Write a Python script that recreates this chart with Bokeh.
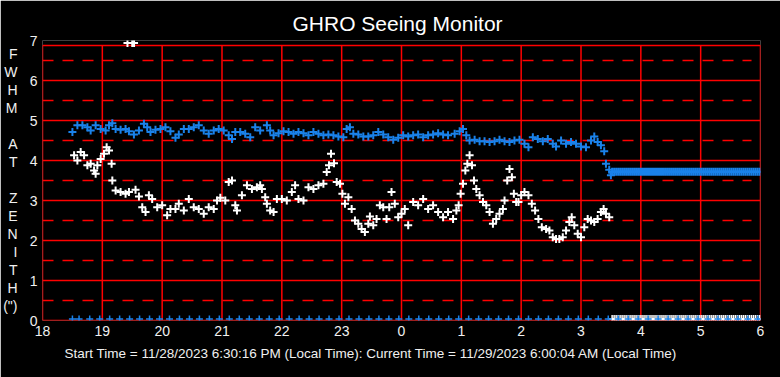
import numpy as np
from bokeh.plotting import figure
from bokeh.models import FixedTicker, LinearAxis, Title
from bokeh.embed import file_html
from bokeh.resources import INLINE

title_text = "GHRO Seeing Monitor"
footer_text = ("Start Time = 11/28/2023 6:30:16 PM (Local Time): "
               "Current Time = 11/29/2023 6:00:04 AM (Local Time)")
y_letters = ["F", "W", "H", "M", "", "A", "T", "", "Z", "E", "N", "I", "T", "H", "(\")"]
hour_ticks = list(range(18, 31))
hour_labels = ["18", "19", "20", "21", "22", "23", "0", "1", "2", "3", "4", "5", "6"]
y_ticks = [0, 1, 2, 3, 4, 5, 6, 7]
y_half = [0.5, 1.5, 2.5, 3.5, 4.5, 5.5, 6.5]
frame_top = 6.875

# white series: seeing FWHM (time in hours since midnight of start day)
fwhm_t = [18.528, 18.583, 18.638, 18.695, 18.75, 18.805, 18.862, 18.888, 18.917, 18.972,
          19.028, 19.072, 19.112, 19.155, 19.167, 19.222, 19.305, 19.388, 19.445, 19.555,
          19.612, 19.667, 19.722, 19.778, 19.833, 19.917, 20.0, 20.083, 20.138, 20.222,
          20.278, 20.362, 20.445, 20.528, 20.612, 20.695, 20.778, 20.862, 20.917, 20.972,
          21.055, 21.112, 21.167, 21.222, 21.25, 21.333, 21.417, 21.5, 21.583, 21.638,
          21.667, 21.722, 21.75, 21.805, 21.862, 21.917, 22.0, 22.083, 22.167, 22.222,
          22.278, 22.362, 22.445, 22.528, 22.612, 22.695, 22.75, 22.788, 22.822, 22.872,
          22.917, 22.972, 23.012, 23.055, 23.112, 23.167, 23.222, 23.278, 23.333, 23.388,
          23.445, 23.472, 23.528, 23.583, 23.638, 23.695, 23.75, 23.795, 23.833, 23.888,
          23.945, 24.0, 24.055, 24.112, 24.195, 24.278, 24.362, 24.445, 24.528, 24.612,
          24.695, 24.778, 24.862, 24.917, 24.955, 24.988, 25.028, 25.067, 25.1, 25.138,
          25.178, 25.212, 25.25, 25.305, 25.362, 25.417, 25.472, 25.528, 25.583, 25.638,
          25.695, 25.722, 25.767, 25.805, 25.845, 25.878, 25.917, 25.955, 26.0, 26.055,
          26.122, 26.178, 26.233, 26.288, 26.345, 26.417, 26.472, 26.528, 26.583, 26.638,
          26.695, 26.75, 26.805, 26.845, 26.888, 26.945, 27.0, 27.055, 27.112, 27.167,
          27.222, 27.278, 27.333, 27.378, 27.417, 27.472,
          19.42, 19.5, 19.53]
fwhm_v = [4.13, 4.0, 4.21, 4.13, 3.88, 3.92, 3.75, 3.67, 3.88, 4.04,
          4.17, 4.33, 4.25, 3.92, 3.5, 3.25, 3.21, 3.17, 3.21, 3.27,
          3.1, 2.83, 2.71, 3.13, 3.04, 2.83, 2.88, 2.63, 2.79, 2.79,
          2.92, 2.75, 3.04, 2.83, 2.79, 2.67, 2.83, 2.79, 3.0, 3.07,
          3.0, 3.46, 3.5, 2.88, 2.75, 3.13, 3.38, 3.29, 3.33, 3.38,
          3.29, 3.08, 2.92, 2.75, 2.71, 3.04, 3.04, 3.0, 3.21, 3.38,
          3.04, 3.0, 3.33, 3.29, 3.38, 3.42, 3.71, 3.88, 4.17, 3.93,
          3.46, 3.42, 3.17, 2.92, 3.08, 2.79, 2.5, 2.42, 2.29, 2.21,
          2.42, 2.6, 2.38, 2.54, 2.88, 2.83, 2.54, 2.83, 3.21, 2.92,
          2.58, 2.67, 2.79, 2.38, 2.96, 2.88, 3.04, 2.79, 2.88, 2.71,
          2.58, 2.71, 2.54, 2.75, 2.88, 3.17, 3.42, 3.75, 3.92, 4.13,
          3.88, 3.5, 3.29, 3.13, 2.96, 2.88, 2.71, 2.42, 2.54, 2.67,
          2.79, 3.0, 3.5, 3.79, 3.58, 3.17, 2.96, 2.96, 3.13, 3.21,
          3.13, 2.92, 2.75, 2.54, 2.33, 2.29, 2.25, 2.08, 2.04, 2.04,
          2.08, 2.25, 2.46, 2.58, 2.38, 2.17, 2.08, 2.33, 2.54, 2.5,
          2.46, 2.54, 2.71, 2.79, 2.67, 2.58,
          6.94, 6.94, 6.94]

# blue series
blue_t = [18.5, 18.583, 18.667, 18.75, 18.805, 18.888, 18.972, 19.055, 19.112, 19.167,
          19.222, 19.305, 19.388, 19.445, 19.528, 19.612, 19.695, 19.75, 19.805, 19.888,
          19.972, 20.055, 20.138, 20.222, 20.278, 20.362, 20.445, 20.528, 20.612, 20.695,
          20.778, 20.862, 20.945, 21.028, 21.112, 21.167, 21.222, 21.305, 21.388, 21.472,
          21.555, 21.638, 21.75, 21.805, 21.862, 21.945, 22.028, 22.112, 22.195, 22.278,
          22.362, 22.445, 22.528, 22.612, 22.695, 22.778, 22.862, 22.945, 23.028, 23.083,
          23.138, 23.195, 23.278, 23.362, 23.445, 23.528, 23.612, 23.695, 23.778, 23.862,
          23.945, 24.028, 24.112, 24.195, 24.278, 24.362, 24.445, 24.528, 24.612, 24.695,
          24.778, 24.888, 24.972, 25.028, 25.083, 25.138, 25.222, 25.305, 25.388, 25.472,
          25.555, 25.638, 25.722, 25.805, 25.888, 25.972, 26.055, 26.122, 26.195, 26.278,
          26.362, 26.445, 26.528, 26.583, 26.667, 26.75, 26.833, 26.917, 27.0, 27.083,
          27.167, 27.222, 27.278, 27.333, 27.388, 27.417, 27.472, 27.5]
blue_v = [4.71, 4.88, 4.88, 4.83, 4.75, 4.88, 4.79, 4.75, 4.88, 4.93,
          4.79, 4.77, 4.79, 4.73, 4.65, 4.75, 4.92, 4.83, 4.71, 4.77,
          4.79, 4.83, 4.73, 4.57, 4.65, 4.79, 4.79, 4.83, 4.88, 4.75,
          4.67, 4.75, 4.79, 4.75, 4.63, 4.54, 4.71, 4.71, 4.67, 4.58,
          4.83, 4.75, 4.88, 4.75, 4.63, 4.68, 4.73, 4.71, 4.67, 4.71,
          4.68, 4.63, 4.71, 4.67, 4.63, 4.65, 4.63, 4.6, 4.58, 4.79,
          4.83, 4.67, 4.65, 4.6, 4.6, 4.63, 4.71, 4.65, 4.58, 4.52,
          4.57, 4.63, 4.6, 4.63, 4.65, 4.58, 4.63, 4.65, 4.68, 4.65,
          4.63, 4.67, 4.73, 4.79, 4.63, 4.5, 4.52, 4.48, 4.48, 4.46,
          4.48, 4.52, 4.48, 4.46, 4.5, 4.52, 4.42, 4.33, 4.58, 4.54,
          4.48, 4.54, 4.42, 4.35, 4.5, 4.42, 4.46, 4.42, 4.35, 4.33,
          4.5, 4.6, 4.46, 4.38, 4.23, 3.92, 3.77, 3.63]

# after the current time: held values sampled every 2 minutes
future_t = list(np.arange(27.52, 30.01, 1 / 30))
future_blue_v = [3.72] * len(future_t)
future_white_v = [0.04] * len(future_t)

# blue markers along the baseline every 10 minutes
base_t = [18.5, 18.611] + list(np.arange(18.789, 30.01, 1 / 6))
base_v = [0.04] * len(base_t)

# positions of the stacked letters of the vertical caption (in y units)
letter_pos = [round(6.675 - 0.45 * i, 3) for i in range(len(y_letters))]

BLUE = "#1a82ea"
RED = "#ff0000"
FONT = "Liberation Sans"
TXT = "#f0f0f0"

p = figure(width=780, height=377, x_range=(18, 30), y_range=(0, 7),
           output_backend="svg", toolbar_location=None,
           background_fill_color="black", border_fill_color="black",
           min_border_left=40, min_border_right=20, min_border_top=40,
           min_border_bottom=57, outline_line_color=None)
p.grid.visible = False

p.title.text = title_text
p.title.align = "left"
p.title.offset = 250
p.title.text_color = "white"
p.title.text_font = FONT
p.title.text_font_size = "21px"
p.title.text_font_style = "normal"
p.title.standoff = 11

# grid
p.segment(x0=hour_ticks, y0=[0] * len(hour_ticks), x1=hour_ticks,
          y1=[frame_top] * len(hour_ticks), line_color=RED, line_width=1.5)
p.segment(x0=[18] * 7, y0=y_ticks[:7], x1=[30] * 7, y1=y_ticks[:7],
          line_color=RED, line_width=1.5)
p.segment(x0=[18], y0=[frame_top], x1=[30], y1=[frame_top],
          line_color=RED, line_width=1.5)
p.segment(x0=[18] * len(y_half), y0=y_half, x1=[29.85] * len(y_half), y1=y_half,
          line_color=RED, line_width=1.5, line_dash="11 9")

# data
p.scatter(future_t, future_white_v, marker="cross", size=8, line_color="white", line_width=1.5)
p.scatter(base_t, base_v, marker="cross", size=7, line_color=BLUE, line_width=1.5)
p.scatter(blue_t, blue_v, marker="cross", size=8, line_color=BLUE, line_width=2)
p.scatter(future_t, future_blue_v, marker="cross", size=8, line_color=BLUE, line_width=2)
p.scatter(fwhm_t, fwhm_v, marker="cross", size=8, line_color="white", line_width=2)

# axes
p.xaxis.ticker = FixedTicker(ticks=hour_ticks)
p.xaxis.major_label_overrides = {t: l for t, l in zip(hour_ticks, hour_labels)}
p.yaxis.ticker = FixedTicker(ticks=y_ticks)

cap_axis = LinearAxis(ticker=FixedTicker(ticks=[v for v, c in zip(letter_pos, y_letters) if c]))
cap_axis.major_label_overrides = {v: c for v, c in zip(letter_pos, y_letters) if c}
p.add_layout(cap_axis, "left")

for ax in (p.xaxis[0], p.yaxis[0], cap_axis):
    ax.axis_line_color = None
    ax.major_tick_line_color = None
    ax.minor_tick_line_color = None
    ax.major_tick_out = 0
    ax.major_tick_in = 0
    ax.major_label_text_color = TXT
    ax.major_label_text_font = FONT
    ax.major_label_text_font_size = "14px"
p.xaxis.major_label_standoff = 5
p.yaxis[0].major_label_standoff = 5
cap_axis.major_label_standoff = 9

p.add_layout(Title(text=footer_text, align="left", offset=22, text_color=TXT,
                   text_font=FONT, text_font_size="13.5px", text_font_style="normal",
                   standoff=10), "below")

open("out.html", "w").write(file_html(p, INLINE))
